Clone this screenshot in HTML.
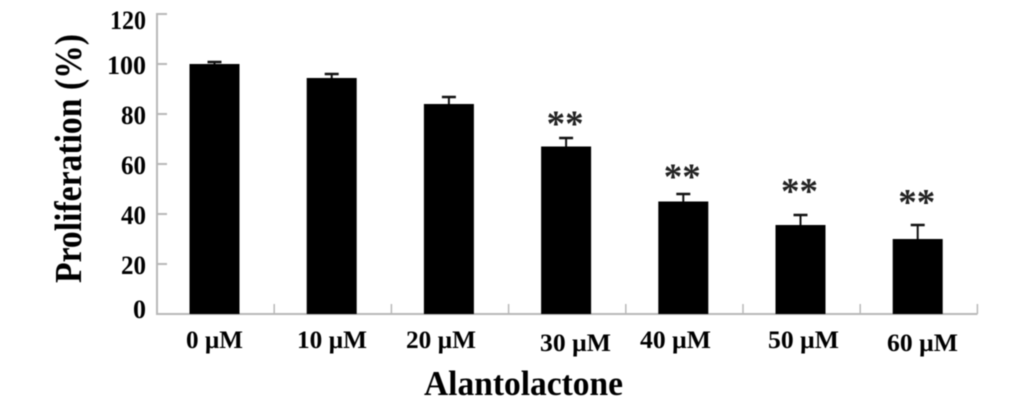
<!DOCTYPE html>
<html lang="en">
<head>
<meta charset="utf-8">
<title>Proliferation vs Alantolactone</title>
<style>
html,body{margin:0;padding:0;background:#fff;width:1033px;height:407px;overflow:hidden}
svg{display:block;filter:blur(.45px)}
text{font-family:"Liberation Serif",serif;font-weight:bold;fill:#000}
</style>
</head>
<body>
<svg id="chart" width="1033" height="407" viewBox="0 0 1033 407" xmlns="http://www.w3.org/2000/svg">
  <g id="axes"></g>
  <g id="bars"></g>
  <g id="errors"></g>
  <g id="stars"></g>
  <g id="yticks"></g>
  <g font-size="25">
    <text x="186" y="348" textLength="57" lengthAdjust="spacingAndGlyphs">0 µM</text>
    <text x="297" y="348" textLength="70" lengthAdjust="spacingAndGlyphs">10 µM</text>
    <text x="406" y="348" textLength="70" lengthAdjust="spacingAndGlyphs">20 µM</text>
    <text x="540" y="351" textLength="71" lengthAdjust="spacingAndGlyphs">30 µM</text>
    <text x="640" y="348" textLength="71" lengthAdjust="spacingAndGlyphs">40 µM</text>
    <text x="768" y="348" textLength="71" lengthAdjust="spacingAndGlyphs">50 µM</text>
    <text x="887" y="351" textLength="71" lengthAdjust="spacingAndGlyphs">60 µM</text>
  </g>
  <text x="424" y="395" font-size="35" textLength="199" lengthAdjust="spacingAndGlyphs">Alantolactone</text>
  <text transform="translate(81 283) rotate(-90)" font-size="38" textLength="249" lengthAdjust="spacingAndGlyphs">Proliferation (%)</text>
</svg>
<script>
const categories = ['0 µM', '10 µM', '20 µM', '30 µM', '40 µM', '50 µM', '60 µM'];
const proliferation = [100, 94.4, 84, 67, 45, 35.6, 30];
const errorAbove = [0.8, 1.6, 2.8, 3.4, 3, 4, 5.6];
const starLevels = [null, null, null, 78.5, 57.2, 51.4, 47];
const yTicks = [0, 20, 40, 60, 80, 100, 120];

const NS = 'http://www.w3.org/2000/svg';
const AXIS_LEFT = 157, BASE_Y = 314, PX_PER_UNIT = 2.5, STEP = 117.2, BAR_W = 50;
const yScale = v => BASE_Y - v * PX_PER_UNIT;
const xCenter = i => AXIS_LEFT + STEP * i + 57.5;
const xEdge = i => AXIS_LEFT + STEP * i;
const svgEl = (tag, parentId) => {
  const el = document.createElementNS(NS, tag);
  document.getElementById(parentId).appendChild(el);
  return el;
};
const drawLine = (el, x1, y1, x2, y2, stroke, width) => {
  el.setAttribute('x1', x1);
  el.setAttribute('y1', y1);
  el.setAttribute('x2', x2);
  el.setAttribute('y2', y2);
  el.setAttribute('stroke', stroke);
  el.setAttribute('stroke-width', width);
};

const AXIS_COLOR = '#b8b8b8';
const yAxis = svgEl('line', 'axes');


drawLine(yAxis, AXIS_LEFT, yScale(yTicks[yTicks.length - 1]) - 1, AXIS_LEFT, BASE_Y + 1, AXIS_COLOR, 2);

const xAxis = svgEl('line', 'axes');


drawLine(xAxis, AXIS_LEFT, BASE_Y, xEdge(categories.length), BASE_Y, AXIS_COLOR, 2);

categories.forEach((c, i) => {
  const t = svgEl('line', 'axes');
  
  
  drawLine(t, xEdge(i + 1), BASE_Y, xEdge(i + 1), BASE_Y - 10, AXIS_COLOR, 1.5);

  const bar = svgEl('rect', 'bars');
  
  
  bar.setAttribute('x', xCenter(i) - BAR_W / 2);
  bar.setAttribute('y', yScale(proliferation[i]));
  bar.setAttribute('width', BAR_W);
  bar.setAttribute('height', BASE_Y - yScale(proliferation[i]));
  bar.setAttribute('fill', '#000');

  const top = yScale(proliferation[i] + errorAbove[i]);
  const stem = svgEl('line', 'errors');
  
  
  drawLine(stem, xCenter(i), yScale(proliferation[i]), xCenter(i), top, '#111', 2);

  const cap = svgEl('line', 'errors');
  
  
  drawLine(cap, xCenter(i) - 7, top, xCenter(i) + 7, top, '#111', 2.5);

  if (starLevels[i] !== null) {
    const s = svgEl('text', 'stars');
    
    
    s.setAttribute('x', xCenter(i) - 1);
    s.setAttribute('y', yScale(starLevels[i]) + 18);
    s.setAttribute('text-anchor', 'middle');
    s.setAttribute('font-size', '37');
    s.setAttribute('style', 'fill:#222');
    s.textContent = '**';
  }
});

yTicks.forEach(v => {
  const t = svgEl('line', 'axes');
  
  
  drawLine(t, AXIS_LEFT, yScale(v), AXIS_LEFT + 10, yScale(v), AXIS_COLOR, 2);

  const label = svgEl('text', 'yticks');
  
  
  label.setAttribute('x', 146);
  label.setAttribute('y', yScale(v) + (v === 120 ? 15 : v === 0 ? 4 : 10));
  label.setAttribute('text-anchor', 'end');
  label.setAttribute('font-size', '26');
  const digits = String(v).length;
  if (digits > 1) {
    label.setAttribute('textLength', digits === 3 ? (v === 100 ? '39' : '36') : '25');
    label.setAttribute('lengthAdjust', 'spacingAndGlyphs');
  }
  label.textContent = v;
});
</script>
</body>
</html>
